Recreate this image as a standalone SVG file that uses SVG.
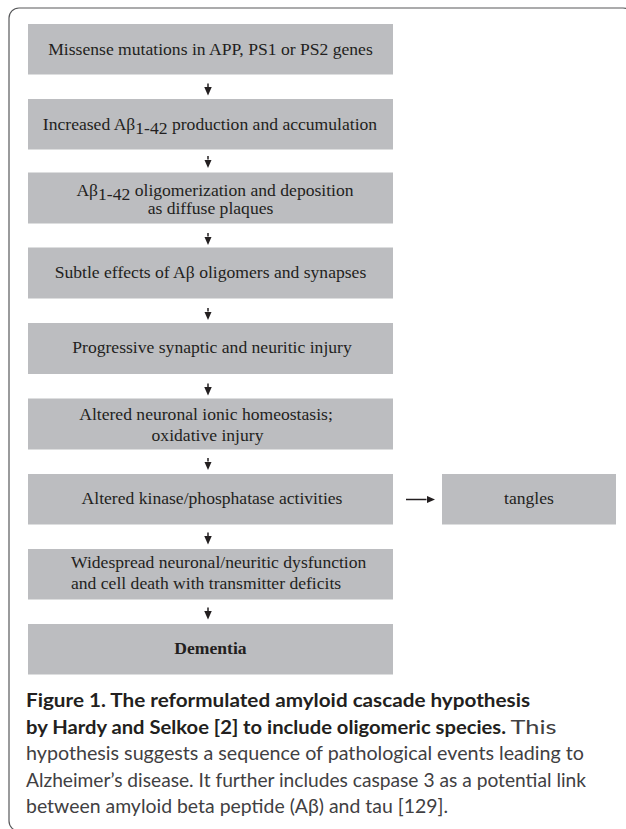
<svg xmlns="http://www.w3.org/2000/svg" width="626" height="829" viewBox="0 0 626 829">
<style>
.box{fill:#bcbdc0}
.t{font-family:"Liberation Serif","Times New Roman",serif;font-size:17.6px;fill:#231f20}
.c{text-anchor:middle}
.b{font-weight:bold}
.cap{font-family:Lato,"Liberation Sans",sans-serif;font-size:19px}
.capb{font-weight:bold;fill:#231f20}
.capr{fill:#414042}
.con{stroke:#231f20;stroke-width:1.5;fill:none}
</style>
<defs>
<marker id="ah" markerWidth="8.5" markerHeight="7.5" refX="0" refY="3.75" orient="auto" markerUnits="userSpaceOnUse">
<path d="M0,0 L8.5,3.75 L0,7.5 z" fill="#231f20"/>
</marker>
</defs>
<rect width="626" height="829" fill="#ffffff"/>
<path d="M633,18 A10,10 0 0 0 623,8 H19 A10,10 0 0 0 9,18 V821 A10,10 0 0 0 19,831" fill="none" stroke="#58595b" stroke-width="1.2"/>

<g id="n1"><rect class="box" x="28" y="24" width="365" height="50.5"/><text class="t c" x="210.5" y="54.5">Missense mutations in APP, PS1 or PS2 genes</text></g>
<g id="n2"><rect class="box" x="28" y="99" width="365" height="50.5"/><text class="t c" x="210" y="129.5">Increased Aβ<tspan dy="4">1-42</tspan><tspan dy="-4"> production and accumulation</tspan></text></g>
<g id="n3"><rect class="box" x="28" y="172.5" width="365" height="51"/><text class="t c" x="215" y="195.5">Aβ<tspan dy="4">1-42</tspan><tspan dy="-4"> oligomerization and deposition</tspan><tspan x="210.5" y="213.5">as diffuse plaques</tspan></text></g>
<g id="n4"><rect class="box" x="28" y="247.5" width="365" height="51"/><text class="t c" x="210.5" y="277.5">Subtle effects of Aβ oligomers and synapses</text></g>
<g id="n5"><rect class="box" x="28" y="323" width="365" height="51"/><text class="t c" x="212" y="353">Progressive synaptic and neuritic injury</text></g>
<g id="n6"><rect class="box" x="28" y="398.5" width="365" height="51"/><text class="t c" x="206" y="420">Altered neuronal ionic homeostasis;<tspan x="207.5" y="440.5">oxidative injury</tspan></text></g>
<g id="n7"><rect class="box" x="28" y="474" width="365" height="50.5"/><text class="t c" x="212" y="504">Altered kinase/phosphatase activities</text></g>
<g id="n8"><rect class="box" x="28" y="549" width="365" height="50.5"/><text class="t" x="71" y="567.5">Widespread neuronal/neuritic dysfunction<tspan x="71" y="588.5">and cell death with transmitter deficits</tspan></text></g>
<g id="n9"><rect class="box" x="28" y="624" width="365" height="50.5"/><text class="t c b" x="210.5" y="654">Dementia</text></g>
<g id="n10"><rect class="box" x="442" y="474" width="174" height="50.5"/><text class="t c" x="529" y="504">tangles</text></g>

<g id="connectors">
<line class="con" x1="208" y1="83.5" x2="208" y2="87" marker-end="url(#ah)"/>
<line class="con" x1="208" y1="156" x2="208" y2="159.5" marker-end="url(#ah)"/>
<line class="con" x1="208" y1="233" x2="208" y2="236.5" marker-end="url(#ah)"/>
<line class="con" x1="208" y1="308" x2="208" y2="311.5" marker-end="url(#ah)"/>
<line class="con" x1="208" y1="383.5" x2="208" y2="387" marker-end="url(#ah)"/>
<line class="con" x1="208" y1="458" x2="208" y2="461.5" marker-end="url(#ah)"/>
<line class="con" x1="208" y1="532.5" x2="208" y2="536" marker-end="url(#ah)"/>
<line class="con" x1="208" y1="607.5" x2="208" y2="611" marker-end="url(#ah)"/>
<line class="con" x1="406" y1="499.5" x2="426.5" y2="499.5" marker-end="url(#ah)"/>
</g>

<g id="caption" class="cap">
<text class="capb" x="26" y="707" textLength="504" lengthAdjust="spacingAndGlyphs">Figure 1. The reformulated amyloid cascade hypothesis</text>
<text class="capb" x="26" y="733.5" textLength="480" lengthAdjust="spacingAndGlyphs">by Hardy and Selkoe [2] to include oligomeric species.</text>
<text class="capr" x="510.5" y="733.5" textLength="46" lengthAdjust="spacingAndGlyphs">This</text>
<text class="capr" x="26" y="760" textLength="558" lengthAdjust="spacingAndGlyphs">hypothesis suggests a sequence of pathological events leading to</text>
<text class="capr" x="26" y="786.5" textLength="560" lengthAdjust="spacingAndGlyphs">Alzheimer’s disease. It further includes caspase 3 as a potential link</text>
<text class="capr" x="26" y="813" textLength="422" lengthAdjust="spacingAndGlyphs">between amyloid beta peptide (Aβ) and tau [129].</text>
</g>
</svg>
